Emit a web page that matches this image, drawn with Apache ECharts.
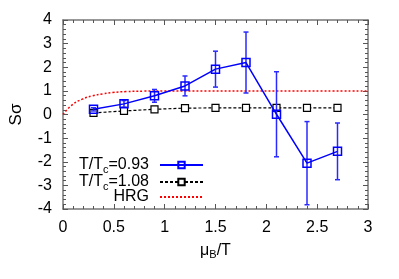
<!DOCTYPE html>
<html><head><meta charset="utf-8">
<script src="https://cdn.jsdelivr.net/npm/echarts@6/dist/echarts.min.js"></script>
<style>html,body{margin:0;padding:0;background:#fff}#c{width:399px;height:279px}</style>
</head><body><div id="c"></div>
<script>
var xPts = [0.3, 0.6, 0.9, 1.2, 1.5, 1.8, 2.1, 2.4, 2.7];
var s093 = [0.22, 0.45, 0.79, 1.21, 1.92, 2.2, 0.01, -2.06, -1.56];
var e093 = [0.07, 0.14, 0.27, 0.42, 0.76, 1.29, 1.8, 1.76, 1.2];
var s108 = [0.07, 0.15, 0.22, 0.27, 0.28, 0.28, 0.28, 0.28, 0.28];
var e108 = [0.03, 0.03, 0.04, 0.04, 0.04, 0.04, 0.05, 0.05, 0.06];
var hrgX = [0, 0.09, 0.19, 0.29, 0.39, 0.49, 0.62, 0.8, 1.0, 3.0];
var hrgY = [0, 0.41, 0.65, 0.79, 0.87, 0.93, 0.97, 0.99, 1.0, 1.0];
var xTicks = [0, 0.5, 1, 1.5, 2, 2.5, 3];
var yTicks = [-4, -3, -2, -1, 0, 1, 2, 3, 4];
var seriesNames = ['T/Tc=0.93', 'T/Tc=1.08', 'HRG'];

function pairs(xs, ys){ return xs.map(function(x,i){return [x, ys[i]];}); }
function errs(xs, ys, es){ return xs.map(function(x,i){return [x, ys[i]-es[i], ys[i]+es[i]];}); }

function errRender(color){
  return function(params, api){
    var x = api.value(0);
    var lo = api.coord([x, api.value(1)]);
    var hi = api.coord([x, api.value(2)]);
    var w = 2.5;
    var st = {stroke: color, lineWidth: 1.5};
    return {type:'group', children:[
      {type:'line', shape:{x1:lo[0],y1:lo[1],x2:hi[0],y2:hi[1]}, style:st},
      {type:'line', shape:{x1:lo[0]-w,y1:lo[1],x2:lo[0]+w,y2:lo[1]}, style:st},
      {type:'line', shape:{x1:hi[0]-w,y1:hi[1],x2:hi[0]+w,y2:hi[1]}, style:st}
    ]};
  };
}

var FONT = 'Liberation Sans';
function axisBase(pos, showLabel){
  return {
    type:'value', position: pos,
    axisLine:{show:true, onZero:false, lineStyle:{color:'#777', width:1.5}},
    axisTick:{show:true, inside:true, length:5, lineStyle:{color:'#555'}},
    minorTick:{show:true, splitNumber:5, length:3, lineStyle:{color:'#555'}},
    splitLine:{show:false},
    axisLabel:{show:showLabel, color:'#000', fontSize:16, fontFamily:FONT, margin:11},
  };
}

var xa1 = Object.assign(axisBase('bottom', true), {min:0, max:3, interval:0.5,
  axisLabel:{show:true, color:'#000', fontSize:16, fontFamily:FONT, margin:11,
    formatter:function(v){ return xTicks.indexOf(v)>=0 ? String(v) : ''; }},
  name:'{a|μ}{s|B}{a|/T}', nameLocation:'middle', nameGap:32,
  nameTextStyle:{rich:{a:{fontSize:16, fontFamily:FONT, color:'#000'}, s:{fontSize:11, fontFamily:FONT, color:'#000', verticalAlign:'bottom', padding:[8,0,0,0]}}}
});
var xa2 = Object.assign(axisBase('top', false), {min:0, max:3, interval:0.5});
var ya1 = Object.assign(axisBase('left', true), {min:-4, max:4, interval:1,
  axisLabel:{show:true, color:'#000', fontSize:16, fontFamily:FONT, margin:11,
    formatter:function(v){ return yTicks.indexOf(v)>=0 ? String(v) : ''; }},
  name:'Sσ', nameLocation:'middle', nameGap:38, nameRotate:90,
  nameTextStyle:{fontSize:17, fontFamily:FONT, color:'#000'}
});
var ya2 = Object.assign(axisBase('right', false), {min:-4, max:4, interval:1});

var richLeg = {
  a:{fontSize:16, fontFamily:FONT, color:'#000', lineHeight:17},
  s:{fontSize:11, fontFamily:FONT, color:'#000', lineHeight:17, padding:[9,0,0,0]},
  p:{width:6, lineHeight:17}
};
function legFmt(n){
  if(n==='HRG') return '{a|HRG}{p|}';
  var parts = n.split('c');
  return '{a|T/T}{s|c}{a|' + parts[1] + '}{p|}';
}
var legTops = [155, 172, 189];
var legends = seriesNames.map(function(n, i){
  var d = (n==='HRG') ? {name:n, itemStyle:{opacity:0}} : {name:n};
  return {
    orient:'vertical', right:195, top:legTops[i], align:'right', itemGap:0, padding:0,
    itemWidth:43, itemHeight:8, data:[d],
    textStyle:{rich:richLeg, fontFamily:FONT, fontSize:16},
    formatter:legFmt
  };
});

var option = {
  animation:false,
  grid:{left:62, right:31, top:20, bottom:70},
  xAxis:[xa1, xa2],
  yAxis:[ya1, ya2],
  legend:legends,
  series:[
    {name:'HRG', type:'line', data:pairs(hrgX, hrgY), smooth:true, showSymbol:false, symbol:'none',
     lineStyle:{color:'#ff0000', width:1.5, type:[2,2]}, itemStyle:{color:'#ff0000'}, z:2},
    {name:'T/Tc=1.08', type:'line', data:pairs(xPts, s108), symbol:'rect', symbolSize:7,
     lineStyle:{color:'#000', width:1.2, type:[3,2]},
     itemStyle:{color:'#fff', borderColor:'#000', borderWidth:1.2}, z:3},
    {type:'custom', renderItem:errRender('#333'), data:errs(xPts, s108, e108), z:3},
    {name:'T/Tc=0.93', type:'line', data:pairs(xPts, s093), symbol:'rect', symbolSize:8,
     lineStyle:{color:'#0000ff', width:1.5},
     itemStyle:{color:'rgba(255,255,255,0)', borderColor:'#0000ff', borderWidth:1.5}, z:4},
    {type:'custom', renderItem:errRender('#2a2aff'), data:errs(xPts, s093, e093), z:4}
  ]
};
var chart = echarts.init(document.getElementById('c'), null, {renderer:'canvas'});
chart.setOption(option);
</script></body></html>
